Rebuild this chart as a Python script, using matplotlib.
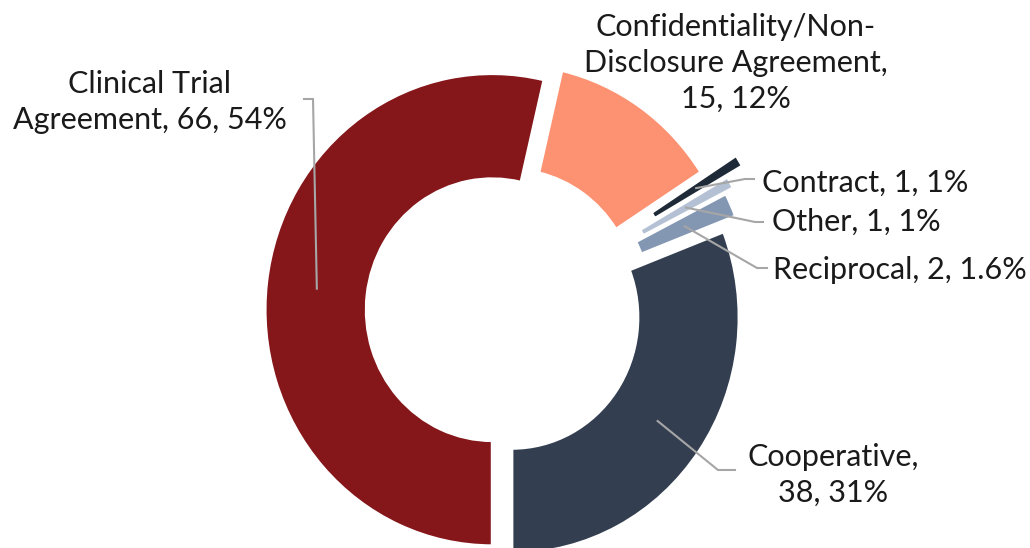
import numpy as np
import matplotlib
matplotlib.use("Agg")
import matplotlib.pyplot as plt

# ---- data ----
categories = ["Clinical Trial Agreement", "Confidentiality/Non-Disclosure Agreement",
              "Contract", "Other", "Reciprocal", "Cooperative"]
counts = [66, 15, 1, 1, 2, 38]
pct_labels = ["54%", "12%", "1%", "1%", "1.6%", "31%"]
label_texts = ["Clinical Trial\nAgreement, 66, 54%",
               "Confidentiality/Non-\nDisclosure Agreement,\n15, 12%",
               "Contract, 1, 1%",
               "Other, 1, 1%",
               "Reciprocal, 2, 1.6%",
               "Cooperative,\n38, 31%"]
colors = ["#85171A", "#FC9272", "#1F2A38", "#B4C0D4", "#8397B3", "#333F51"]
explode = [0.048, 0.055, 0.22, 0.14, 0.10, 0.048]

plt.rcParams["font.family"] = ["Lato", "DejaVu Sans"]

W, H = 1030, 548
fig = plt.figure(figsize=(W / 100, H / 100), dpi=100)
ax = fig.add_axes([0, 0, 1, 1])

CX, CY, RX, RY = 503, 311, 227, 236
RING = 0.445


def px(x, y):
    return (x - CX) / RX, (CY - y) / RY


wedges, _ = ax.pie(counts, colors=colors, explode=explode, startangle=270,
                   counterclock=False, radius=1.0,
                   wedgeprops=dict(width=RING, edgecolor="white", linewidth=2.0))
ax.set_aspect("auto")
x0, _ = px(0, 0)
x1, _ = px(W, 0)
_, ytop = px(0, 0)
_, ybot = px(0, H)
ax.set_xlim(x0, x1)
ax.set_ylim(ybot, ytop)
ax.axis("off")

# label layout (pixel positions): text pos, ha, elbow, end
layout = [
    dict(text=(150, 102), ha="center", elbow=(313, 99), end=(304, 99)),
    dict(text=(736, 63), ha="center", elbow=None, end=None),
    dict(text=(762, 183), ha="left", elbow=(745, 179), end=(754, 179)),
    dict(text=(772, 222), ha="left", elbow=(755, 222), end=(763, 222)),
    dict(text=(773, 270), ha="left", elbow=(757, 268), end=(767, 268)),
    dict(text=(833, 475), ha="center", elbow=(718, 470), end=(735, 470)),
]

rmid = 1.0 - RING / 2
for w, ex, lay, txt in zip(wedges, explode, layout, label_texts):
    ang = np.deg2rad((w.theta1 + w.theta2) / 2)
    if lay["elbow"] is not None:
        r = rmid + ex
        sx, sy = r * np.cos(ang), r * np.sin(ang)
        ex_, ey_ = px(*lay["elbow"])
        fx, fy = px(*lay["end"])
        ax.plot([sx, ex_, fx], [sy, ey_, fy], color="#A6A6A6", lw=1.5,
                solid_joinstyle="miter", zorder=3)
    tx, ty = px(*lay["text"])
    ax.text(tx, ty, txt, ha=lay["ha"], va="center", fontsize=22,
            color="#1a1a1a", linespacing=1.33, multialignment="center")

fig.savefig("out.png", dpi=100)
